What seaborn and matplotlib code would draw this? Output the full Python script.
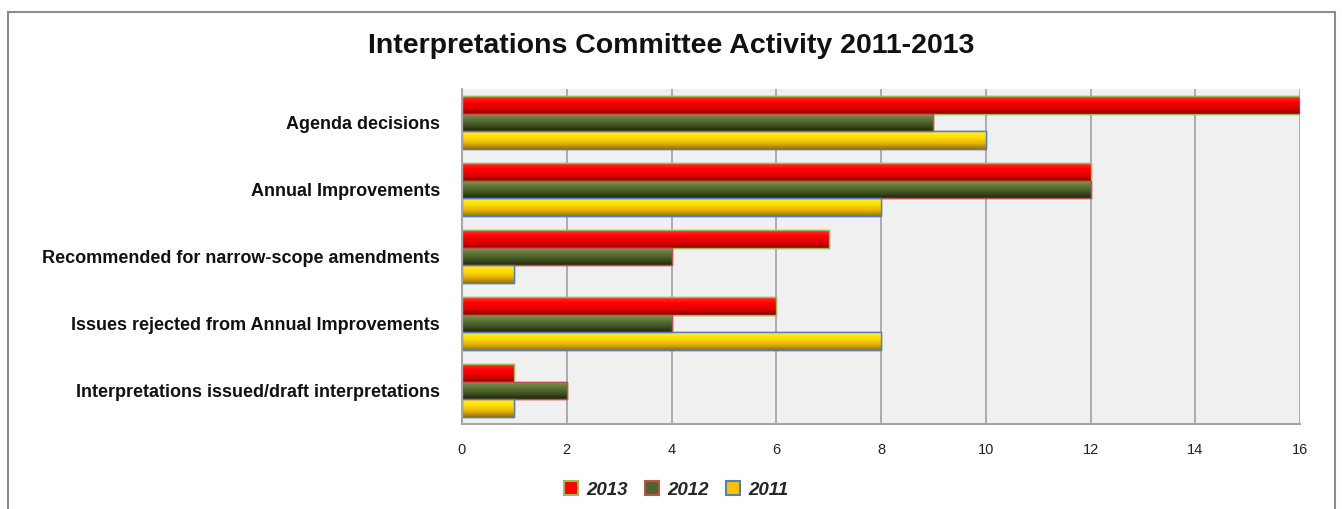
import numpy as np
import pandas as pd
import matplotlib
matplotlib.use("Agg")
import matplotlib.pyplot as plt
from matplotlib.patches import Rectangle, Patch
from matplotlib.colors import LinearSegmentedColormap
import seaborn as sns

categories = ["Agenda decisions",
              "Annual Improvements",
              "Recommended for narrow-scope amendments",
              "Issues rejected from Annual Improvements",
              "Interpretations issued/draft interpretations"]
years = ["2013", "2012", "2011"]
v2013 = [16, 12, 7, 6, 1]
v2012 = [9, 12, 4, 4, 2]
v2011 = [10, 8, 1, 8, 1]
xticks = [0, 2, 4, 6, 8, 10, 12, 14, 16]

df = pd.DataFrame({
    "category": categories * 3,
    "year": ["2013"] * 5 + ["2012"] * 5 + ["2011"] * 5,
    "value": v2013 + v2012 + v2011,
})

sns.set_theme(style="white")
plt.rcParams['font.family'] = ['Liberation Sans', 'DejaVu Sans']

base = {"2013": "#FF0000", "2012": "#4F6228", "2011": "#FFC000"}
edges = {"2013": "#9BBB59", "2012": "#C0504D", "2011": "#4F81BD"}
grads = {
    "2013": ["#FF3030", "#FF0000", "#E00000", "#900000"],
    "2012": ["#809C55", "#5E7838", "#425522", "#1E2A0C"],
    "2011": ["#FFEB40", "#FFE000", "#E8B800", "#A07000"],
}

fig = plt.figure(figsize=(13.42, 5.09), dpi=100)
ax = fig.add_axes([462 / 1342, 1 - 424 / 509, (1300 - 462) / 1342, (424 - 89) / 509])

sns.barplot(data=df, x="value", y="category", hue="year", hue_order=years,
            order=categories, palette=base, orient="h", width=0.8,
            ax=ax, legend=False, saturation=1)

for cont, yr in zip(ax.containers, years):
    cmap = LinearSegmentedColormap.from_list("g" + yr, grads[yr])
    grad = np.linspace(0, 1, 64).reshape(-1, 1)
    for rect in cont:
        rect.set_edgecolor(edges[yr])
        rect.set_linewidth(1.0)
        x0, y0 = rect.get_x(), rect.get_y()
        w, h = rect.get_width(), rect.get_height()
        im = ax.imshow(grad, cmap=cmap, aspect="auto",
                       extent=(x0, x0 + w, y0 + h, y0), zorder=rect.get_zorder() + 0.1,
                       interpolation="bicubic")
        im.set_clip_path(rect)
        edge = Rectangle((x0, y0), w, h, fill=False, edgecolor=edges[yr],
                         linewidth=1.0, zorder=rect.get_zorder() + 0.2)
        ax.add_patch(edge)

ax.set_xlim(0, 16)
ax.set_ylim(4.5, -0.5)
ax.set_facecolor("#F0F0F0")
ax.set_xticks(xticks)
ax.set_xticklabels([str(t) for t in xticks])
ax.grid(axis="x", color="#A6A6A6", linewidth=1.3)
ax.set_axisbelow(True)
ax.set_xlabel("")
ax.set_ylabel("")
for s in ["top", "right"]:
    ax.spines[s].set_visible(False)
for s in ["left", "bottom"]:
    ax.spines[s].set_color("#A6A6A6")
    ax.spines[s].set_linewidth(1.5)
ax.tick_params(axis="x", length=0, pad=14, labelsize=10.5, labelcolor="#222222")
ax.tick_params(axis="y", length=0, pad=16, labelsize=13, labelcolor="#111111")
for lbl in ax.get_yticklabels():
    lbl.set_fontweight("bold")

fig.text(671 / 1342, 1 - 46 / 509, "Interpretations Committee Activity 2011-2013",
         ha="center", va="center", fontsize=20.5, fontweight="bold", color="#111111")

handles = [Patch(facecolor=base[y], edgecolor=edges[y], linewidth=1.5, label=y) for y in years]
fig.legend(handles=handles, loc="center", bbox_to_anchor=(676 / 1342, 1 - 490 / 509),
           ncol=3, frameon=False, handlelength=0.75, handleheight=0.75,
           handletextpad=0.45, columnspacing=0.9,
           prop={"weight": "bold", "style": "italic", "size": 13.5})

border = Rectangle((8 / 1342, -0.1), (1335 - 8) / 1342, 1.1 - 12 / 509,
                   transform=fig.transFigure, fill=False, edgecolor="#8C8C8C",
                   linewidth=1.5)
fig.patches.append(border)

fig.savefig("out.png", dpi=100)
